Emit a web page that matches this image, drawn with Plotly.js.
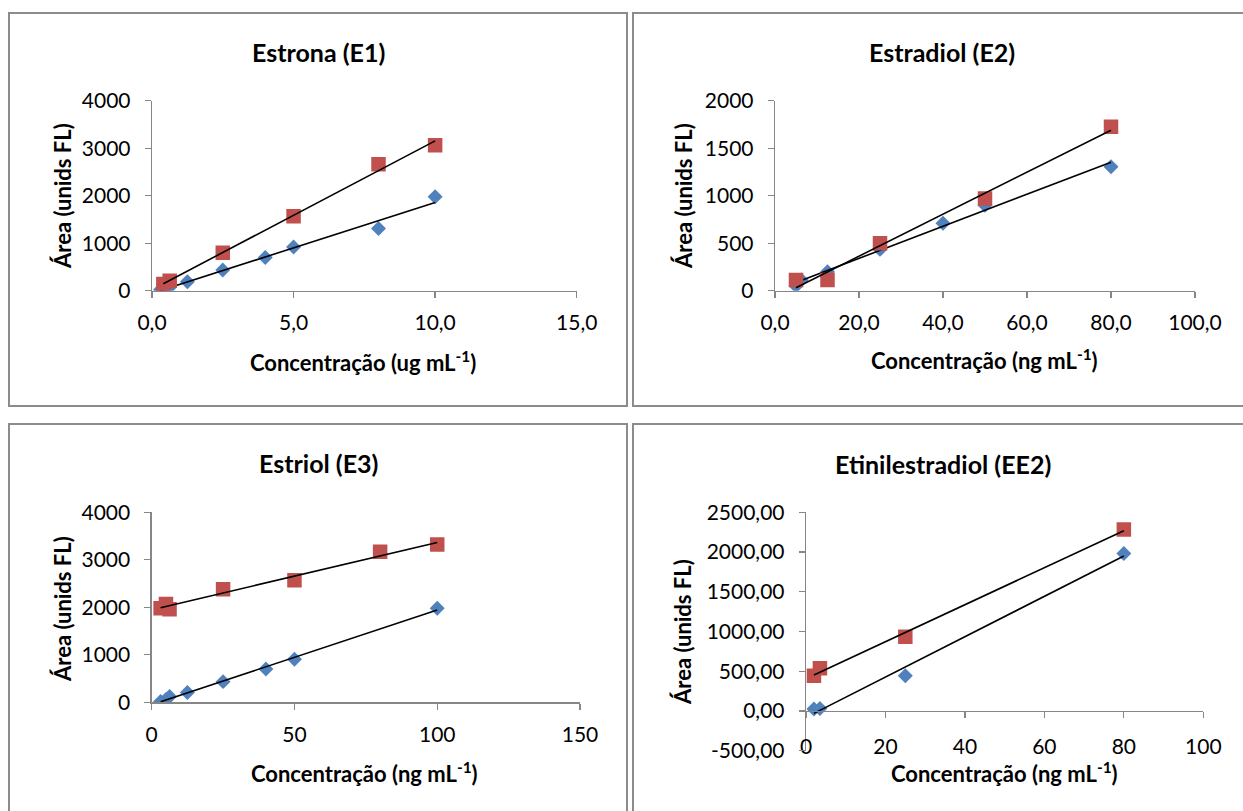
<!DOCTYPE html>
<html>
<head>
<meta charset="utf-8">
<script src="https://cdn.plot.ly/plotly-3.0.1.min.js"></script>
<style>html,body{margin:0;padding:0;background:#fff;}#chart{width:1243px;height:811px;}</style>
</head>
<body>
<div id="chart"></div>
<script>
// ---- Data ----
// Estrona (E1), ug/mL
const e1BlueX = [0.3, 0.6, 1.25, 2.5, 4, 5, 8, 10];
const e1BlueY = [20, 60, 190, 435, 700, 920, 1310, 1980];
const e1RedX  = [0.4, 0.625, 2.5, 5, 8, 10];
const e1RedY  = [140, 210, 800, 1570, 2660, 3060];
// Estradiol (E2), ng/mL
const e2BlueX = [5, 6.25, 12.5, 25, 40, 50, 80];
const e2BlueY = [50, 112, 200, 435, 710, 900, 1305];
const e2RedX  = [5, 12.5, 25, 50, 80];
const e2RedY  = [112, 112, 500, 970, 1725];
// Estriol (E3), ng/mL
const e3BlueX = [3.125, 5, 6.25, 12.5, 25, 40, 50, 100];
const e3BlueY = [15, 60, 120, 205, 435, 700, 905, 1980];
const e3RedX  = [3.125, 5, 6.25, 25, 50, 80, 100];
const e3RedY  = [1980, 2070, 1960, 2380, 2570, 3170, 3320];
// Etinilestradiol (EE2), ng/mL
const ee2BlueX = [2, 3.5, 25, 80];
const ee2BlueY = [25, 30, 444, 1982];
const ee2RedX  = [2, 3.5, 25, 80];
const ee2RedY  = [444, 536, 934, 2283];

// Titles / labels
const panelTitles = ['Estrona (E1)', 'Estradiol (E2)', 'Estriol (E3)', 'Etinilestradiol (EE2)'];
const xTitles = ['Concentração (ug mL<sup>-1</sup>)', 'Concentração (ng mL<sup>-1</sup>)',
                 'Concentração (ng mL<sup>-1</sup>)', 'Concentração (ng mL<sup>-1</sup>)'];
const yTitle = 'Área (unids FL)';
const ee2YTickVals = [-500, 0, 500, 1000, 1500, 2000, 2500];
const ee2YTickText = ['-500,00', '0,00', '500,00', '1000,00', '1500,00', '2000,00', '2500,00'];

// ---- Helpers ----
const W = 1243, H = 811;
const px = x => x / W;
const py = y => 1 - y / H;
const BLUE = '#4F81BD', RED = '#C0504D', AX = '#868686';
const FONT = 'Lato, "Open Sans", sans-serif';

function fit(xs, ys) {
  const n = xs.length;
  const mx = xs.reduce((a, b) => a + b, 0) / n;
  const my = ys.reduce((a, b) => a + b, 0) / n;
  let sxy = 0, sxx = 0;
  for (let i = 0; i < n; i++) { sxy += (xs[i] - mx) * (ys[i] - my); sxx += (xs[i] - mx) ** 2; }
  const m = sxy / sxx, b = my - m * mx;
  const x0 = Math.min(...xs), x1 = Math.max(...xs);
  return { x: [x0, x1], y: [m * x0 + b, m * x1 + b] };
}

const traces = [];
function addSeries(xs, ys, color, symbol, size, n) {
  const xa = n === 1 ? 'x' : 'x' + n, ya = n === 1 ? 'y' : 'y' + n;
  const f = fit(xs, ys);
  traces.push({ x: xs, y: ys, type: 'scatter', mode: 'markers', xaxis: xa, yaxis: ya,
    marker: { color: color, symbol: symbol, size: size, line: { width: 0 } }, hoverinfo: 'x+y' });
  traces.push({ x: f.x, y: f.y, type: 'scatter', mode: 'lines', xaxis: xa, yaxis: ya,
    line: { color: '#000', width: 1.6 }, hoverinfo: 'skip' });
}
addSeries(e1BlueX, e1BlueY, BLUE, 'diamond', 11.5, 1);
addSeries(e1RedX, e1RedY, RED, 'square', 14.5, 1);
addSeries(e2BlueX, e2BlueY, BLUE, 'diamond', 11.5, 2);
addSeries(e2RedX, e2RedY, RED, 'square', 14.5, 2);
addSeries(e3BlueX, e3BlueY, BLUE, 'diamond', 11.5, 3);
addSeries(e3RedX, e3RedY, RED, 'square', 14.5, 3);
addSeries(ee2BlueX, ee2BlueY, BLUE, 'diamond', 11.5, 4);
addSeries(ee2RedX, ee2RedY, RED, 'square', 14.5, 4);

const axBase = {
  showline: true, linecolor: AX, linewidth: 1.3, showgrid: false, zeroline: false,
  ticks: 'outside', ticklen: 6, tickcolor: AX, tickwidth: 1.3,
  tickfont: { family: FONT, size: 21, color: '#000' }, fixedrange: true
};
function xa(domain, range, dtick, fmt, extra) {
  return Object.assign({}, axBase, { domain: domain, range: range, dtick: dtick, tick0: 0, tickformat: fmt, ticklabelstandoff: 7 }, extra || {});
}
function ya(domain, range, dtick, extra) {
  return Object.assign({}, axBase, { domain: domain, range: range, dtick: dtick, tick0: 0, ticklabelstandoff: 10 }, extra || {});
}

const annotations = [];
function title(text, x, y) {
  annotations.push({ text: '<b>' + text + '</b>', x: px(x), y: py(y), xref: 'paper', yref: 'paper',
    showarrow: false, xanchor: 'center', yanchor: 'middle', font: { family: FONT, size: 25, color: '#000' } });
}
function xTitle(text, x, y) {
  annotations.push({ text: '<b>' + text + '</b>', x: px(x), y: py(y), xref: 'paper', yref: 'paper',
    showarrow: false, xanchor: 'center', yanchor: 'middle', font: { family: FONT, size: 22, color: '#000' } });
}
function yTitleAt(x, y) {
  annotations.push({ text: '<b>' + yTitle + '</b>', x: px(x), y: py(y), xref: 'paper', yref: 'paper',
    showarrow: false, xanchor: 'center', yanchor: 'middle', textangle: -90, font: { family: FONT, size: 22, color: '#000' } });
}
title(panelTitles[0], 318, 52);
title(panelTitles[1], 942, 52);
title(panelTitles[2], 318, 463);
title(panelTitles[3], 943, 464);
xTitle(xTitles[0], 363, 361);
xTitle(xTitles[1], 984, 360);
xTitle(xTitles[2], 364, 772);
xTitle(xTitles[3], 1004, 772);
yTitleAt(62, 196);
yTitleAt(683, 196);
yTitleAt(62, 609);
yTitleAt(682, 632);

const border = { color: '#8c8c8c', width: 2 };
const shapes = [
  { type: 'rect', xref: 'paper', yref: 'paper', x0: px(9), x1: px(627), y0: py(406), y1: py(13), line: border },
  { type: 'rect', xref: 'paper', yref: 'paper', x0: px(633), x1: px(1250), y0: py(406), y1: py(13), line: border },
  { type: 'rect', xref: 'paper', yref: 'paper', x0: px(9), x1: px(627), y0: py(820), y1: py(424), line: border },
  { type: 'rect', xref: 'paper', yref: 'paper', x0: px(633), x1: px(1250), y0: py(820), y1: py(424), line: border }
];

const layout = {
  width: W, height: H, margin: { l: 0, r: 0, t: 0, b: 0 },
  paper_bgcolor: '#fff', plot_bgcolor: 'rgba(0,0,0,0)', showlegend: false,
  separators: ',.', font: { family: FONT, color: '#000' },
  xaxis:  xa([px(152), px(576.7)], [0, 15], 5, '.1f', { anchor: 'y' }),
  yaxis:  ya([py(290.7), py(100.7)], [0, 4000], 1000, { anchor: 'x' }),
  xaxis2: xa([px(775), px(1195)], [0, 100], 20, '.1f', { anchor: 'y2' }),
  yaxis2: ya([py(290.7), py(100.7)], [0, 2000], 500, { anchor: 'x2' }),
  xaxis3: xa([px(151.7), px(580)], [0, 150], 50, 'd', { anchor: 'y3' }),
  yaxis3: ya([py(702.3), py(512.3)], [0, 4000], 1000, { anchor: 'x3' }),
  xaxis4: xa([px(806), px(1203.3)], [0, 100], 20, 'd', { anchor: 'free', position: py(711), ticklabelstandoff: 10 }),
  yaxis4: ya([py(750.7), py(512.3)], [-500, 2500], 500, { anchor: 'x4', tickmode: 'array', tickvals: ee2YTickVals, ticktext: ee2YTickText }),
  annotations: annotations, shapes: shapes
};

Plotly.newPlot('chart', traces, layout, { displayModeBar: false, staticPlot: true });
</script>
</body>
</html>
